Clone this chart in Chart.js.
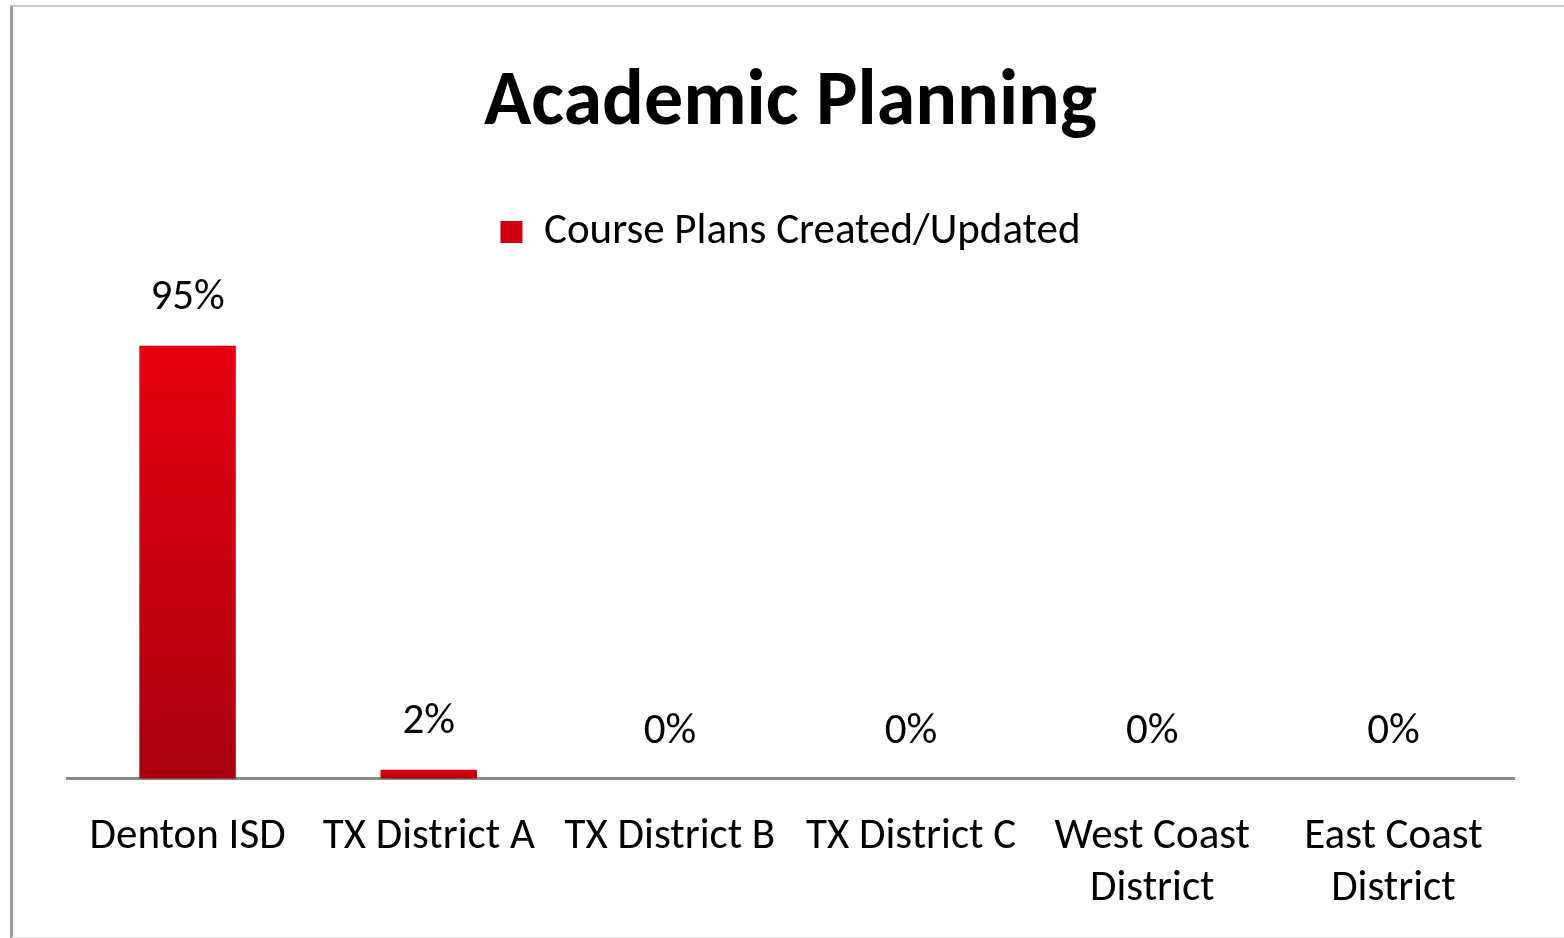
<!DOCTYPE html>
<html>
<head>
<meta charset="utf-8">
<script src="https://cdn.jsdelivr.net/npm/chart.js@4"></script>
<style>
  html, body { margin: 0; padding: 0; background: #fff; }
  #wrap { position: relative; width: 1564px; height: 938px; overflow: hidden; }
  #frame { position: absolute; left: 10px; top: 5px; width: 1600px; height: 930px;
           border-left: 3px solid #9a9a9a; border-top: 2px solid #c8c8c8; border-bottom: 1px solid #e4e4e4; }
  canvas { position: absolute; left: 0; top: 0; }
</style>
</head>
<body>
<div id="wrap">
  <div id="frame"></div>
  <canvas id="chart" width="1564" height="938"></canvas>
</div>
<script>
const districts = ['Denton ISD', 'TX District A', 'TX District B', 'TX District C', ['West Coast', 'District'], ['East Coast', 'District']];
const coursePlans = [95, 2, 0, 0, 0, 0];
const seriesLabel = 'Course Plans Created/Updated';

const FONT = "Carlito, Lato, 'Open Sans', sans-serif";

function barGradient(context) {
    const chart = context.chart;
    const { ctx, chartArea, scales } = chart;
    if (!chartArea) return '#d0000f';
    const value = context.parsed ? context.parsed.y : 95;
    const top = scales.y.getPixelForValue(value || 0.01);
    const bottom = scales.y.getPixelForValue(0);
    const g = ctx.createLinearGradient(0, top, 0, bottom);
    g.addColorStop(0, '#e60012');
    g.addColorStop(1, '#a9000f');
    return g;
}

// percent labels above each bar
const valueLabels = {
    id: 'valueLabels',
    afterDatasetsDraw(chart) {
        const { ctx } = chart;
        const meta = chart.getDatasetMeta(0);
        ctx.save();
        ctx.font = '43px ' + FONT;
        ctx.fillStyle = '#000';
        ctx.textAlign = 'center';
        ctx.textBaseline = 'middle';
        meta.data.forEach((bar, i) => {
            ctx.fillText(coursePlans[i] + '%', bar.x, bar.y - 47);
        });
        ctx.restore();
    }
};

new Chart(document.getElementById('chart'), {
    type: 'bar',
    data: {
        labels: districts,
        datasets: [{
            label: seriesLabel,
            data: coursePlans,
            backgroundColor: barGradient,
            barPercentage: 0.4,
            categoryPercentage: 1.0
        }]
    },
    options: {
        responsive: false,
        animation: false,
        layout: { padding: { top: 58, left: 67, right: 50, bottom: -10 } },
        plugins: {
            title: {
                display: true,
                text: 'Academic Planning',
                color: '#000',
                font: { family: FONT, size: 78, weight: 'bold' },
                padding: { top: 0, bottom: 17 }
            },
            legend: {
                display: true,
                labels: {
                    color: '#000',
                    font: { family: FONT, size: 43 },
                    boxWidth: 22,
                    boxHeight: 22,
                    padding: 42,
                    generateLabels() {
                        return [{ text: seriesLabel, fillStyle: '#d0000f', strokeStyle: '#d0000f', lineWidth: 0, datasetIndex: 0 }];
                    }
                }
            },
            tooltip: { enabled: false }
        },
        scales: {
            x: {
                grid: { display: false, drawTicks: false },
                border: { color: '#8a8a8a', width: 3 },
                ticks: {
                    color: '#000',
                    font: { family: FONT, size: 43, lineHeight: 1.2 },
                    padding: 33,
                    maxRotation: 0,
                    autoSkip: false
                }
            },
            y: { display: false, min: 0, max: 113 }
        }
    },
    plugins: [valueLabels]
});
</script>
</body>
</html>
